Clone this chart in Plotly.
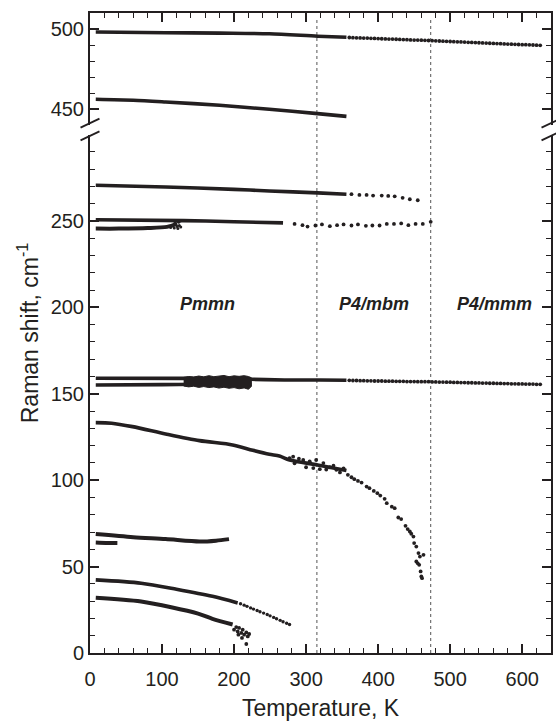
import plotly.graph_objects as go

# ---------------- data ----------------
# upper panel: ~498 cm-1 mode
m498_dense_T = [8, 105, 180, 249, 316, 356]
m498_dense_v = [498.1, 497.7, 497.4, 497.0, 495.5, 494.8]
m498_dots_T = [360, 365, 370, 375, 380, 385, 390, 395, 400, 405, 410, 415, 420, 425, 430,
               435, 440, 445, 450, 455, 460, 465, 470, 475, 480, 485, 490, 495, 500, 505,
               510, 515, 520, 525, 530, 535, 540, 545, 550, 555, 560, 565, 570, 575, 580,
               585, 590, 595, 600, 605, 610, 615, 620, 625]
m498_dots_v = [494.7, 494.6, 494.5, 494.4, 494.3, 494.3, 494.2, 494.1, 494.0, 493.9, 493.8,
               493.7, 493.7, 493.6, 493.5, 493.4, 493.3, 493.2, 493.1, 493.1, 493.0, 492.9,
               492.8, 492.7, 492.6, 492.5, 492.4, 492.3, 492.2, 492.1, 492.0, 491.9, 491.8,
               491.7, 491.6, 491.5, 491.4, 491.3, 491.2, 491.1, 491.0, 490.9, 490.8, 490.7,
               490.6, 490.5, 490.4, 490.3, 490.2, 490.2, 490.1, 490.0, 489.9, 489.8]

# upper panel: ~455 cm-1 mode
m455_T = [8, 60, 105, 180, 249, 316, 356]
m455_v = [456.1, 455.5, 454.4, 452.3, 449.8, 447.1, 445.4]

# lower panel: ~271 cm-1 mode
m271_dense_T = [8, 105, 200, 249, 316, 356]
m271_dense_v = [270.7, 269.7, 268.3, 267.4, 266.3, 265.5]
m271_dots_T = [363, 374, 384, 393, 405, 414, 423, 434, 444, 455]
m271_dots_v = [265.5, 265.1, 265.1, 264.7, 264.7, 264.5, 264.3, 263.4, 262.6, 262.0]

# ~250 cm-1 mode
m250_dense_T = [8, 130, 200, 268]
m250_dense_v = [250.7, 250.2, 249.6, 248.9]
m250_dots_T = [284, 295, 302, 313, 322, 333, 343, 352, 363, 372, 383, 392, 402, 412, 422,
               432, 442, 452, 462, 473]
m250_dots_v = [248.3, 247.6, 246.8, 247.4, 248.0, 247.0, 247.6, 248.0, 247.4, 248.0, 247.2,
               247.4, 247.4, 248.3, 248.3, 248.6, 247.6, 248.3, 248.3, 249.5]

# ~245 cm-1 mode (low T only)
m245_T = [8, 40, 80, 107, 121]
m245_v = [245.6, 245.6, 245.9, 246.6, 248.3]
m245_noise_T = [112, 115, 117, 119, 121, 123, 124, 125, 126, 118, 122]
m245_noise_v = [246.2, 247.2, 246.0, 248.0, 246.8, 249.3, 247.4, 250.0, 246.6, 249.0, 245.6]

# ~158 cm-1 mode
m158_dense_T = [8, 130, 224, 270, 319, 356]
m158_dense_v = [159.0, 158.9, 158.4, 158.0, 158.0, 157.8]
m158_dots_T = [360, 365, 370, 375, 380, 385, 390, 395, 400, 405, 410, 415, 420, 425, 430,
               435, 440, 445, 450, 455, 460, 465, 470, 475, 480, 485, 490, 495, 500, 505,
               510, 515, 520, 525, 530, 535, 540, 545, 550, 555, 560, 565, 570, 575, 580,
               585, 590, 595, 600, 605, 610, 615, 620, 625]
m158_dots_v = [157.8, 157.7, 157.7, 157.6, 157.6, 157.5, 157.5, 157.4, 157.4, 157.4, 157.3,
               157.3, 157.3, 157.2, 157.2, 157.2, 157.1, 157.1, 157.1, 157.0, 157.0, 157.0,
               157.0, 156.9, 156.9, 156.8, 156.8, 156.7, 156.7, 156.6, 156.6, 156.5, 156.5,
               156.4, 156.4, 156.3, 156.3, 156.2, 156.2, 156.1, 156.1, 156.0, 156.0, 155.9,
               155.9, 155.8, 155.8, 155.7, 155.7, 155.6, 155.6, 155.6, 155.5, 155.5]

# ~155 cm-1 mode (low T only) and the noisy band where both modes overlap
m155_T = [8, 100, 150, 224]
m155_v = [155.1, 155.3, 155.5, 155.3]
band155_T = [130, 137, 144, 151, 158, 165, 172, 179, 186, 193, 200, 207, 214, 220, 224]
band155_hi = [159.5, 160.0, 159.7, 160.3, 159.8, 160.5, 159.9, 160.2, 160.6, 159.9, 160.4,
              160.1, 160.5, 160.0, 159.3]
band155_lo = [154.5, 154.0, 154.4, 153.7, 154.2, 153.6, 154.0, 153.3, 153.8, 153.2, 153.6,
              152.9, 153.4, 152.6, 154.3]

# ~133 cm-1 soft mode
m133_dense_T = [8, 30, 59, 105, 152, 198, 226, 249, 263, 277, 316, 356]
m133_dense_v = [133.3, 133.0, 131.0, 126.8, 122.9, 120.4, 117.3, 115.0, 114.0, 111.7, 108.8, 105.6]
m133_noise_T = [277, 282, 284, 290, 296, 300, 305, 310, 314, 319, 324, 328, 333, 338, 342, 347, 352]
m133_noise_v = [112.7, 113.6, 109.8, 112.4, 111.7, 107.5, 110.9, 107.0, 111.7, 106.4, 109.9,
                106.2, 107.5, 108.4, 106.0, 104.5, 106.9]
m133_dots_T = [358, 363, 367, 372, 377, 384, 388, 394, 399, 403, 409, 412, 419, 423, 428,
               432, 438, 441, 444, 446, 449, 450, 453, 456, 458, 463, 453, 457, 459, 460, 455, 461]
m133_dots_v = [103.1, 101.7, 100.6, 99.6, 98.6, 96.3, 95.4, 93.8, 92.5, 91.1, 89.2, 86.7,
               84.7, 83.8, 78.4, 77.5, 73.6, 71.7, 70.3, 69.0, 67.4, 63.6, 61.6, 57.8, 55.8,
               56.8, 53.0, 51.0, 47.2, 44.3, 51.9, 43.3]

# ~68 and ~63 cm-1 modes
m68_T = [8, 60, 105, 152, 175, 193]
m68_v = [68.8, 67.0, 65.9, 64.5, 65.0, 65.9]
m63_T = [8, 22, 38]
m63_v = [63.9, 63.7, 63.6]

# ~42 cm-1 mode
m42_dense_T = [8, 71, 120, 170, 205]
m42_dense_v = [42.3, 40.4, 36.9, 32.8, 29.0]
m42_dots_T = [209, 214, 218, 223, 227, 232, 236, 241, 246, 250, 255, 259, 264, 268, 273, 277]
m42_dots_v = [28.5, 27.7, 27.0, 26.1, 25.4, 24.6, 23.9, 23.1, 22.3, 21.5, 20.6, 19.8,
              18.9, 18.1, 17.2, 16.5]

# ~32 cm-1 mode
m32_dense_T = [8, 71, 150, 170, 198]
m32_dense_v = [32.0, 29.8, 22.8, 19.8, 16.5]
m32_noise_T = [200, 203, 205, 207, 210, 206, 212, 214, 217, 219, 221, 211, 217]
m32_noise_v = [13.5, 15.0, 12.5, 14.5, 11.6, 10.6, 13.5, 10.6, 11.9, 9.6, 11.0, 8.7, 5.2]

# phase transitions and labels
transition_T = [315, 473]
phase_labels = ["Pmmn", "P4/mbm", "P4/mmm"]
phase_T = [163, 394, 562]
phase_v = [202, 202, 202]

x_ticks = [0, 100, 200, 300, 400, 500, 600]
y_low_ticks = [0, 50, 100, 150, 200, 250]
y_low_minor = [v for v in range(10, 300, 10) if v % 50 != 0]
y_up_ticks = [450, 500]
y_up_minor = [460, 470, 480, 490]

# ---------------- figure ----------------
INK = "#231f20"
FONT = "Liberation Sans, Arial, sans-serif"
fig = go.Figure()


def axes(upper):
    return ("x2", "y2") if upper else ("x", "y")


def lines(T, v, upper=False, width=3.6):
    xa, ya = axes(upper)
    fig.add_trace(go.Scatter(x=T, y=v, mode="lines",
                             line=dict(color=INK, width=width, shape="spline", smoothing=0.8),
                             xaxis=xa, yaxis=ya, showlegend=False, hoverinfo="skip"))


def dots(T, v, upper=False, size=3.8):
    xa, ya = axes(upper)
    fig.add_trace(go.Scatter(x=T, y=v, mode="markers",
                             marker=dict(color=INK, size=size, line=dict(width=0)),
                             xaxis=xa, yaxis=ya, showlegend=False, hoverinfo="skip"))


lines(m498_dense_T, m498_dense_v, upper=True)
dots(m498_dots_T, m498_dots_v, upper=True)
lines(m455_T, m455_v, upper=True)

lines(m271_dense_T, m271_dense_v)
dots(m271_dots_T, m271_dots_v)
lines(m250_dense_T, m250_dense_v)
dots(m250_dots_T, m250_dots_v)
lines(m245_T, m245_v, width=4)
dots(m245_noise_T, m245_noise_v, size=3)
lines(m158_dense_T, m158_dense_v)
dots(m158_dots_T, m158_dots_v)
lines(m155_T, m155_v)
fig.add_trace(go.Scatter(x=band155_T + band155_T[::-1], y=band155_hi + band155_lo[::-1],
                         mode="lines", fill="toself", fillcolor=INK,
                         line=dict(color=INK, width=1),
                         showlegend=False, hoverinfo="skip"))
lines(m133_dense_T, m133_dense_v)
dots(m133_noise_T, m133_noise_v)
dots(m133_dots_T, m133_dots_v)
lines(m68_T, m68_v, width=4)
lines(m63_T, m63_v, width=4)
lines(m42_dense_T, m42_dense_v)
dots(m42_dots_T, m42_dots_v, size=3.4)
lines(m32_dense_T, m32_dense_v, width=4)
dots(m32_noise_T, m32_noise_v)

W, H = 556, 721
ML, MR, MT, MB = 90, 3, 13, 68
LOW_TOP = 0.81
UP_BOT = 0.825
PW = W - ML - MR
PH = H - MT - MB

axis_common = dict(showline=True, linewidth=2, linecolor=INK, ticks="inside",
                   ticklen=9, tickwidth=1.6, tickcolor=INK, showgrid=False, zeroline=False,
                   tickfont=dict(family=FONT, size=20, color=INK))
minor_common = dict(ticks="inside", ticklen=5, tickwidth=1.4, tickcolor=INK)

fig.update_layout(
    width=W, height=H,
    margin=dict(l=ML, r=MR, t=MT, b=MB),
    paper_bgcolor="white", plot_bgcolor="white",
    font=dict(family=FONT, color=INK),
    xaxis=dict(domain=[0, 1], range=[0, 640], anchor="y", tickmode="array", tickvals=x_ticks,
               minor=dict(dtick=20, tick0=0, **minor_common),
               title=dict(text="Temperature, K", font=dict(family=FONT, size=23, color=INK), standoff=12),
               ticklabelstandoff=7,
               **axis_common),
    xaxis2=dict(domain=[0, 1], range=[0, 640], anchor="y2", side="top", matches="x",
                tickmode="array", tickvals=x_ticks, showticklabels=False,
                minor=dict(dtick=20, tick0=0, **minor_common),
                **axis_common),
    yaxis=dict(domain=[0, LOW_TOP], range=[0, 300], anchor="x", tickmode="array",
               tickvals=y_low_ticks, mirror="allticks",
               minor=dict(tickvals=y_low_minor, **minor_common),
               **axis_common),
    yaxis2=dict(domain=[UP_BOT, 1], range=[440, 510], anchor="x2", tickmode="array",
                tickvals=y_up_ticks, mirror="allticks",
                minor=dict(tickvals=y_up_minor, **minor_common),
                **axis_common),
)

# phase-boundary dotted lines
for t in transition_T:
    fig.add_shape(type="line", xref="x", yref="paper", x0=t, x1=t, y0=0, y1=0.993,
                  line=dict(color="#555555", width=1, dash="dot"), layer="below")

# axis-break marks
dx = 9.5 / PW
dy = 4.5 / PH
for xc in (0, 1):
    for yc in (UP_BOT + 0.003, LOW_TOP - 0.002):
        fig.add_shape(type="line", xref="paper", yref="paper",
                      x0=xc - dx, x1=xc + dx, y0=yc - dy, y1=yc + dy,
                      line=dict(color=INK, width=1.8))

# phase labels
for lab, t, v in zip(phase_labels, phase_T, phase_v):
    fig.add_annotation(x=t, y=v, xref="x", yref="y", text=f"<b><i>{lab}</i></b>",
                       showarrow=False, font=dict(family=FONT, size=18, color=INK))

# y title spanning both panels
fig.add_annotation(x=(28 - ML) / PW, y=(653 - 333) / PH, xref="paper", yref="paper",
                   text="Raman shift, cm<sup>-1</sup>", textangle=-90, showarrow=False,
                   xanchor="center", yanchor="middle",
                   font=dict(family=FONT, size=23, color=INK))

# remove the default page margin so the figure sits at the window's corner
fig.write_html("out.html",
               config={"displayModeBar": False},
               post_script="document.body.style.margin='0px';document.body.style.overflow='hidden';")
